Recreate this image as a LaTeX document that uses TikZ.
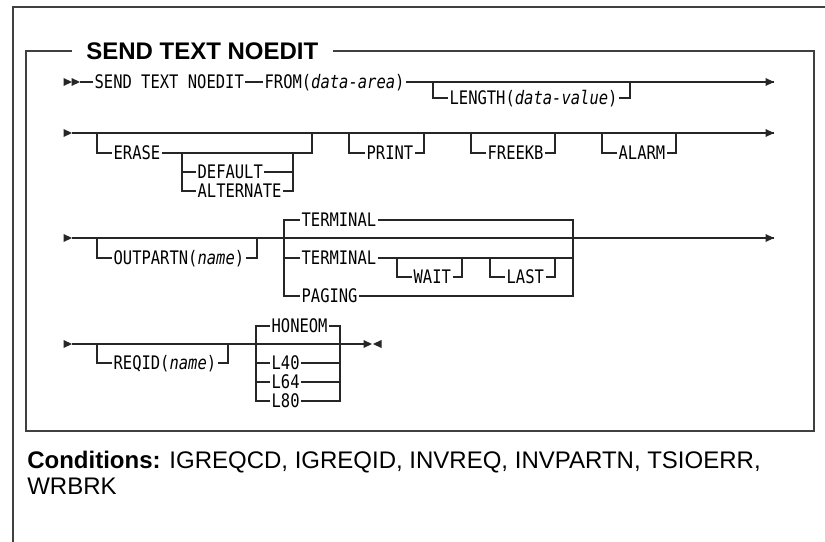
\documentclass[tikz,border=0pt]{standalone}
\usepackage{fontspec}
\setmainfont{Liberation Sans}
\newfontfamily\synfont[FakeStretch=0.83]{DejaVu Sans Mono}
\newcommand\tipR[1]{\fill[black!85] (#1) -- ++(-8.5,-4) -- ++(0,8) -- cycle;}
\newcommand\tipL[1]{\fill[black!85] (#1) -- ++(8.5,-4) -- ++(0,8) -- cycle;}
\begin{document}
\begin{tikzpicture}[x=0.75pt,y=-0.75pt,
  ln/.style={draw=black!85, line width=0.8pt},
  frame/.style={draw=black!75, line width=1.1pt},
  syn/.style={font=\synfont\fontsize{14pt}{16pt}\selectfont, inner xsep=1pt, inner ysep=0pt, text height=10.2pt, text depth=0pt, anchor=west},
  cond/.style={font=\fontsize{18pt}{22pt}\selectfont, inner sep=0pt, text height=12.9pt, text depth=0pt, anchor=west},
  ttl/.style={font=\bfseries\fontsize{18pt}{22pt}\selectfont, inner xsep=10.5pt, inner ysep=0pt, text height=12.9pt, text depth=0pt, anchor=west}
]
\useasboundingbox (0,0) rectangle (825,542);
\fill[white] (0,0) rectangle (825,542);
% outer frame
\draw[frame] (13,546) -- (13,7) -- (829,7);
% titled inner box
\node[ttl] (title) at (72,51) {SEND TEXT NOEDIT};
\draw[frame] (title.east) -- (814,51) -- (814,431) -- (26,431) -- (26,51) -- (title.west);

% ---------- row 1 ----------
\tipR{72,82}\tipR{80,82}
\coordinate (r1s) at (80,82);
\coordinate (r1e) at (774,82);
\node[syn] (send) at (93,82) {SEND TEXT NOEDIT};
\node[syn] (from) at (263,82) {FROM(\textit{data-area})};
\draw[ln] (r1s) -- (send.west) (send.east) -- (from.west) (from.east) -- (r1e);
\tipR{774,82}
\node[syn] (len) at (448,98) {LENGTH(\textit{data-value})};
\coordinate (len1) at (433,82);
\coordinate (len2) at (630,82);
\draw[ln] (len1) |- (len.west) (len.east) -| (len2);

% ---------- row 2 ----------
\tipR{72,133}
\coordinate (r2s) at (72,133);
\coordinate (r2e) at (774,133);
\draw[ln] (r2s) -- (r2e);
\tipR{774,133}
\node[syn] (erase) at (112,153) {ERASE};
\node[syn] (dflt) at (196,172) {DEFAULT};
\node[syn] (alt) at (196,191) {ALTERNATE};
\draw[ln] (97,133) |- (erase.west) (erase.east) -- (312,153) -- (312,133);
\draw[ln] (182,153) |- (dflt.west);
\draw[ln] (182,153) |- (alt.west);
\draw[ln] (dflt.east) -- (293,172);
\draw[ln] (alt.east) -| (293,153);
\node[syn] (print) at (365,153) {PRINT};
\draw[ln] (349,133) |- (print.west) (print.east) -| (424,133);
\node[syn] (freekb) at (486,153) {FREEKB};
\draw[ln] (471,133) |- (freekb.west) (freekb.east) -| (555,133);
\node[syn] (alarm) at (617,153) {ALARM};
\draw[ln] (602,133) |- (alarm.west) (alarm.east) -| (676,133);

% ---------- row 3 ----------
\tipR{72,238}
\coordinate (r3s) at (72,238);
\coordinate (r3e) at (774,238);
\draw[ln] (r3s) -- (r3e);
\tipR{774,238}
\node[syn] (outp) at (112,258) {OUTPARTN(\textit{name})};
\draw[ln] (97,238) |- (outp.west) (outp.east) -| (257,238);
\node[syn] (term1) at (300,220) {TERMINAL};
\node[syn] (term2) at (300,258) {TERMINAL};
\node[syn] (paging) at (300,296) {PAGING};
\draw[ln] (term1.west) -- (284,220) -- (284,296) -- (paging.west);
\draw[ln] (284,258) -- (term2.west);
\draw[ln] (term1.east) -- (573,220) -- (573,296) -- (paging.east);
\draw[ln] (term2.east) -- (573,258);
\node[syn] (wait) at (412,277) {WAIT};
\draw[ln] (397,258) |- (wait.west) (wait.east) -| (462,258);
\node[syn] (last) at (505,277) {LAST};
\draw[ln] (490,258) |- (last.west) (last.east) -| (555,258);

% ---------- row 4 ----------
\tipR{72,344}
\coordinate (r4s) at (72,344);
\coordinate (r4e) at (366,344);
\draw[ln] (r4s) -- (r4e);
\tipR{372,344}\tipL{373,344}
\node[syn] (reqid) at (112,363) {REQID(\textit{name})};
\draw[ln] (97,344) |- (reqid.west) (reqid.east) -| (228,344);
\node[syn] (honeom) at (270,326) {HONEOM};
\node[syn] (l40) at (270,363) {L40};
\node[syn] (l64) at (270,382) {L64};
\node[syn] (l80) at (270,401) {L80};
\draw[ln] (honeom.west) -- (256,326) -- (256,401) -- (l80.west);
\draw[ln] (256,363) -- (l40.west);
\draw[ln] (256,382) -- (l64.west);
\draw[ln] (honeom.east) -- (340,326) -- (340,401) -- (l80.east);
\draw[ln] (l40.east) -- (340,363);
\draw[ln] (l64.east) -- (340,382);

% ---------- conditions ----------
\node[cond] (c1) at (27,460) {\textbf{Conditions:} IGREQCD, IGREQID, INVREQ, INVPARTN, TSIOERR,};
\node[cond] (c2) at (27,486) {WRBRK};
\end{tikzpicture}
\end{document}
